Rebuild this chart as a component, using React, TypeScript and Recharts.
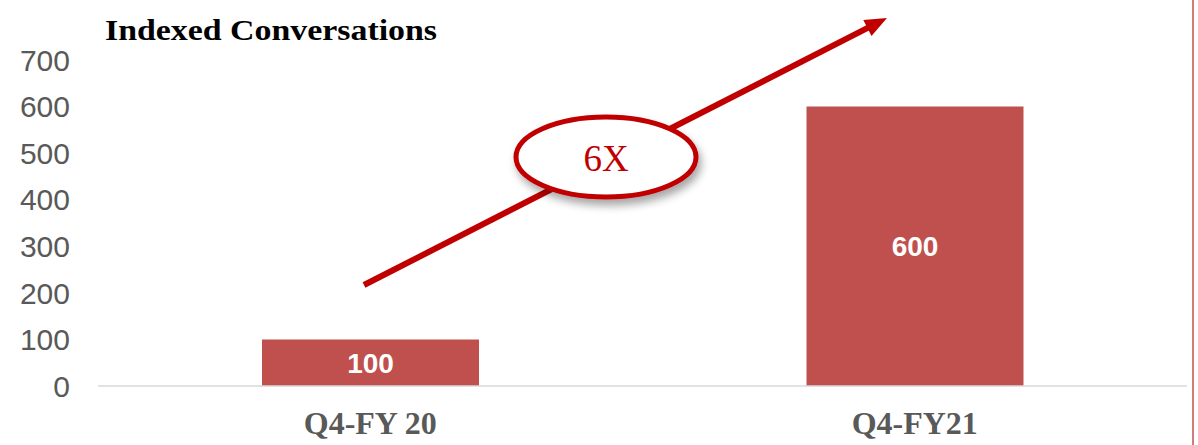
import { BarChart, Bar, XAxis, YAxis, LabelList, Customized } from "recharts";

const quarters = ["Q4-FY 20", "Q4-FY21"];
const conversations = [100, 600];
const yTicks = [0, 100, 200, 300, 400, 500, 600, 700];
const chartTitle = "Indexed Conversations";
const growthLabel = "6X";

const data = quarters.map((q, i) => ({ quarter: q, value: conversations[i] }));

const RED = "#c00000";
const BAR = "#c0504d";
const GREY = "#595959";
const SERIF = "'Liberation Serif', serif";
const SANS = "'Liberation Sans', Arial, sans-serif";

// title, growth arrow and the 6X bubble drawn on top of the plot
function Annotations() {
  const x1 = 364;
  const y1 = 285;
  const tipX = 887;
  const tipY = 18;
  const dx = tipX - x1;
  const dy = tipY - y1;
  const len = Math.sqrt(dx * dx + dy * dy);
  const ux = dx / len;
  const uy = dy / len;
  const headLen = 22;
  const headHalf = 9;
  const bx = tipX - ux * headLen;
  const by = tipY - uy * headLen;
  const head = [
    `${tipX},${tipY}`,
    `${bx - uy * headHalf},${by + ux * headHalf}`,
    `${bx + uy * headHalf},${by - ux * headHalf}`,
  ].join(" ");

  return (
    <g>
      <defs>
        <filter id="bubbleShadow" x="-30%" y="-40%" width="160%" height="200%">
          <feDropShadow dx="3" dy="6" stdDeviation="4" floodColor="#000" floodOpacity="0.35" />
        </filter>
      </defs>
      <text
        x={105}
        y={40}
        fontFamily={SERIF}
        fontWeight="bold"
        fontSize={30}
        fill="#000"
        textLength={332}
        lengthAdjust="spacingAndGlyphs"
      >
        {chartTitle}
      </text>
      <line x1={x1} y1={y1} x2={bx + ux * 2} y2={by + uy * 2} stroke={RED} strokeWidth={6} />
      <polygon points={head} fill={RED} />
      <ellipse
        cx={606}
        cy={157}
        rx={90}
        ry={40}
        fill="#fff"
        stroke={RED}
        strokeWidth={5}
        filter="url(#bubbleShadow)"
      />
      <text x={606} y={171} textAnchor="middle" fontFamily={SERIF} fontSize={37} fill={RED}>
        {growthLabel}
      </text>
      <line x1={1193} y1={0} x2={1193} y2={445} stroke={BAR} strokeWidth={1.5} />
    </g>
  );
}

export default function App() {
  return (
    <div style={{ position: "absolute", left: 0, top: 0, width: 1198, height: 445, background: "#fff" }}>
      <BarChart
        width={1198}
        height={445}
        data={data}
        margin={{ top: 60, right: 11, left: 0, bottom: 0 }}
      >
        <XAxis
          dataKey="quarter"
          height={59}
          axisLine={{ stroke: "#d9d9d9", strokeWidth: 1.5 }}
          tickLine={false}
          tickSize={0}
          tickMargin={25}
          tick={{ fontSize: 32, fill: GREY, fontWeight: "bold", fontFamily: SERIF }}
        />
        <YAxis
          width={98}
          domain={[0, 700]}
          ticks={yTicks}
          axisLine={false}
          tickLine={false}
          tickSize={0}
          tickMargin={28}
          tick={{ fontSize: 30, fill: GREY, fontFamily: SANS }}
        />
        <Bar dataKey="value" fill={BAR} barSize={217} isAnimationActive={false}>
          <LabelList
            dataKey="value"
            position="center"
            fill="#fff"
            fontSize={28}
            fontWeight="bold"
            fontFamily={SANS}
          />
        </Bar>
        <Customized component={Annotations} />
      </BarChart>
    </div>
  );
}
